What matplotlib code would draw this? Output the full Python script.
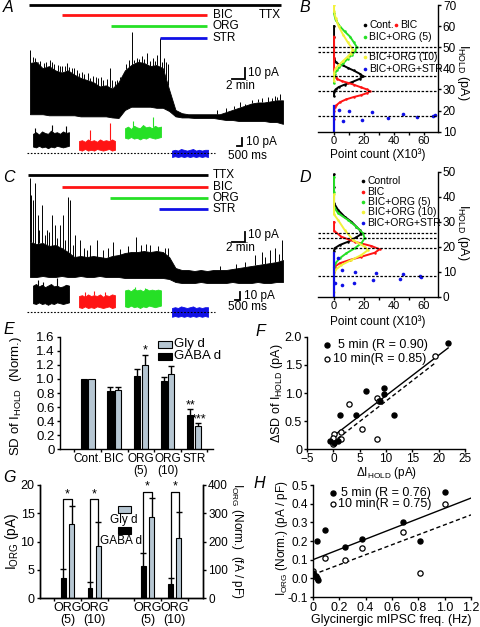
import numpy as np
import matplotlib
matplotlib.use("Agg")
import matplotlib.pyplot as plt
from matplotlib.lines import Line2D
from matplotlib.patches import Rectangle

plt.rcParams['font.family'] = ['Liberation Sans', 'DejaVu Sans']
plt.rcParams['mathtext.fontset'] = 'custom'
plt.rcParams['mathtext.rm'] = 'Liberation Sans'
plt.rcParams['mathtext.it'] = 'Liberation Sans:italic'
plt.rcParams['font.size'] = 8.5
plt.rcParams['axes.linewidth'] = 1.0
for a in ('xtick', 'ytick'):
    plt.rcParams[f'{a}.major.width'] = 1.0
    plt.rcParams[f'{a}.minor.width'] = 1.0
    plt.rcParams[f'{a}.major.size'] = 2.5
    plt.rcParams[f'{a}.minor.size'] = 2.0
    plt.rcParams[f'{a}.major.pad'] = 1.5
    plt.rcParams[f'{a}.direction'] = 'out'

W, H = 480, 627
RED = '#ff1414'
GREEN = '#26e026'
BLUE = '#1010e6'
YELLOW = '#f2f23a'
GRAY = '#b6c6d2'

# ---------------------------------------------------------------------------
# A / C: holding-current traces (min, pA), envelopes
# ---------------------------------------------------------------------------
TRACE_T = list(range(41))
A_hi = [59, 60, 54, 56, 52, 50, 52, 48, 45, 43, 41, 37, 38, 35, 41, 52, 57, 60, 59, 56, 57,
        54, 34, 15, 12, 11, 11, 11, 11, 11, 11, 13, 15, 17, 19, 21, 22, 22, 23, 24, 24]
A_lo = [11, 11, 11, 10, 10, 10, 10, 10, 9, 9, 9, 9, 9, 8, 7.5, 15, 18, 18, 18, 18, 17,
        17, 14, 9, 8, 8, 7.5, 7.5, 7.5, 7.5, 6.5, 5.6, 5.6, 4.7, 4.7, 4.7, 4.7, 4.7, 3.7, 3.7, 2]
A_spk_t = [0.0, 0.47, 1.26, 2.21, 3.16, 3.48, 4.43, 5.06, 5.85, 6.64, 7.43, 8.22, 9.17, 9.49,
           10.43, 11.54, 12.65, 13.75, 15.65, 16.13, 16.92, 17.71, 18.5, 19.45, 20.08, 20.55,
           21.19, 21.5, 33.2, 35.1, 36.7, 37.6, 38.7, 39.5,
           0.8, 1.6, 2.6, 3.8, 4.7, 5.5, 6.2, 7.0, 7.8, 8.6, 9.9, 10.8, 11.2, 12.1, 12.9,
           13.4, 14.3, 15.2, 16.5, 17.3, 18.1, 18.9, 19.8, 20.9, 21.8, 29.5, 31.0, 32.3,
           34.0, 36.0, 38.2, 39.0]
A_spk_v = [71, 64.5, 59.8, 58.9, 61.7, 59.8, 57, 56.1, 58.9, 54.2, 52.3, 50.5, 49.5, 44.9,
           45.8, 43, 54.2, 43, 61.7, 87.9, 63.6, 65.4, 68.2, 63.6, 66.4, 82.2,
           63.6, 59.8, 22, 24.3, 26.2, 27.1, 28, 29.9,
           64, 61, 60, 58, 56, 56, 55, 54, 50, 49, 47, 45, 46, 44, 43,
           42, 46, 58, 62, 63, 63, 61, 61, 60, 58, 15, 17, 19,
           21, 25, 26, 27]

C_hi = [48, 46, 47, 44, 45, 42, 38, 33, 34, 33, 34, 33, 32, 34, 35, 37, 38, 38, 39, 38, 39,
        38, 33, 22, 20, 20, 19, 20, 19, 20, 20, 20, 21, 22, 23, 24, 25, 26, 27, 28, 30]
C_lo = [13, 13, 14, 13, 13, 14, 13, 13, 14, 13, 13, 14, 13, 13, 13, 12, 12, 12, 12, 12, 12,
        12, 11, 8, 7, 7, 7, 8, 7, 7, 7, 7, 8, 7, 7, 7, 8, 7, 7, 8, 8]
C_spk_t = [0.0, 0.16, 0.47, 0.79, 1.26, 1.9, 2.69, 3.48, 3.95, 4.74, 5.22, 6.0, 6.32, 7.1,
           7.9, 9.5, 10.6, 13.1, 16.8, 19.0, 21.3, 35.6, 36.7, 37.9, 38.7, 39.8,
           1.5, 2.3, 3.0, 4.2, 5.6, 6.8, 8.5, 9.0, 11.5, 12.4, 14.2, 15.5, 17.5, 18.4,
           20.2, 21.8, 30.0, 32.5, 34.0, 37.2, 39.3]
C_spk_v = [112, 95, 90, 107, 75, 85, 60, 75, 65, 65, 75, 93, 90, 55,
           50, 45, 50, 48, 53, 45, 42, 35, 38, 40, 42, 50,
           60, 55, 58, 52, 50, 45, 42, 40, 40, 42, 41, 44, 45, 46,
           44, 42, 24, 26, 28, 33, 36]

DRUGS = ['TTX', 'BIC', 'ORG', 'STR']
A_drug_start = [-0.2, 5.0, 12.8, 20.5]
A_drug_end = [39.7, 28.0, 28.0, 28.0]
C_drug_start = [-0.3, 5.0, 12.7, 20.4]
C_drug_end = [28.1, 28.1, 28.1, 28.1]

# snippets (s, pA)
SNIP_T = [0, 0.3, 0.6, 0.9, 1.2, 1.5, 1.8, 2.1, 2.4, 2.7, 3.0, 3.3, 3.6]
SNIP_START = [0.6, 5.2, 9.8, 14.5]
A_snip_hi = [[24, 26, 23, 27, 25, 24, 28, 25, 26, 24, 27, 25, 26],
             [15, 16, 14, 17, 15, 16, 14, 17, 15, 16, 15, 17, 15],
             [31, 33, 30, 34, 32, 31, 35, 32, 33, 31, 34, 32, 33],
             [3, 4, 3, 5, 4, 3, 4, 5, 3, 4, 3, 4, 4]]
A_snip_lo = [[8, 7, 9, 7, 8, 6, 8, 7, 9, 8, 7, 8, 9],
             [4, 3, 5, 3, 4, 3, 5, 4, 3, 4, 5, 3, 4],
             [19, 18, 20, 18, 19, 17, 19, 18, 20, 19, 18, 19, 20],
             [-5, -4, -5, -4, -5, -4, -5, -4, -5, -4, -5, -4, -5]]
A_snip_spk_t = [[0.2, 1.9, 3.3], [1.1, 3.1], [0.8, 2.8], []]
A_snip_spk_v = [[31, 35, 34], [29, 37.5], [40, 45], []]
C_snip_hi = [[33, 35, 32, 34, 31, 33, 35, 32, 33, 31, 32, 34, 33],
             [20, 21, 19, 22, 20, 21, 20, 22, 19, 21, 20, 22, 21],
             [27, 28, 26, 29, 27, 28, 26, 29, 27, 28, 27, 28, 27],
             [5, 6, 5, 7, 6, 5, 6, 7, 5, 6, 5, 6, 6]]
C_snip_lo = [[11, 10, 12, 10, 11, 9, 11, 10, 12, 11, 10, 11, 12],
             [6, 5, 7, 5, 6, 5, 7, 6, 5, 6, 7, 5, 6],
             [7, 6, 8, 6, 7, 5, 7, 6, 8, 7, 6, 7, 8],
             [-6, -5, -6, -5, -6, -5, -6, -5, -6, -5, -6, -5, -6]]
C_snip_spk_t = [[0.5, 1.0, 2.4], [0.6, 1.5, 2.6], [1.0, 2.0], []]
C_snip_spk_v = [[40, 38, 42], [25, 26, 25], [31, 30], []]

# ---------------------------------------------------------------------------
# B / D: all-point histograms (count x10^3, IHOLD pA)
# ---------------------------------------------------------------------------
B_cont_x = [0, 0, 0, 0, 1, 3, 6, 9, 13, 17, 19.5, 17, 12, 7, 3, 1, 0, 0]
B_cont_y = [60, 55, 50, 45, 43, 42, 41.4, 40.3, 39, 37.5, 36.2, 35, 33.5, 32.3, 31.1, 30, 29, 27]
B_bic_x = [0, 0, 0, 1, 2, 5, 9, 13, 18, 22, 24, 22, 18, 13, 8, 4, 1.5, 0.5, 0, 0]
B_bic_y = [55, 45, 38, 36, 35, 34, 33.2, 32.3, 31, 30, 29.2, 28.3, 27.3, 26.4, 25.3, 24, 22.5, 21.6, 20, 16]
B_org5_x = [0, 1, 4, 7, 10.7, 13, 15, 14, 11.8, 9, 6.2, 3.5, 1.8, 0.5, 0, 0]
B_org5_y = [66, 63, 59.8, 57.5, 55, 52.5, 50.3, 48, 46.3, 44.5, 42.4, 40.5, 39, 37.5, 36, 33]
B_org10_x = [0, 0, 1, 3, 6, 9, 11.5, 12.5, 11, 9, 6, 3, 1, 0, 0]
B_org10_y = [70, 67, 64, 60, 56, 52.5, 50, 48.7, 47, 45.5, 43.5, 41.5, 40, 38, 34]
B_str_x = [0, 0, 0, 0, 0, 0, 0, 3.3, 5.8, 10.2, 18.9, 25.1, 36.2, 46.2, 55.1, 66.2, 67.3]
B_str_y = [22, 20, 18, 16, 14, 12, 10, 20.3, 15.2, 19.7, 15.7, 19.2, 16.5, 18.4, 17.1, 17.6, 17.9]
B_dashed = [50.2, 47.8, 36.2, 29.2, 17.6]

D_cont_x = [0, 0, 0, 2.7, 7.1, 11.6, 14.9, 17.1, 18.2, 14.9, 9.3, 3.8, 0.4, 0]
D_cont_y = [49, 44, 37.5, 34.8, 32.1, 30.1, 28.1, 26.8, 25.2, 23.9, 22.1, 20.8, 19.5, 18.5]
D_bic_x = [0, 0, 4.9, 13.8, 24.9, 30.4, 27.1, 18.2, 10.4, 3.8, 0.4, 0]
D_bic_y = [30, 26.5, 24.1, 22.1, 20.4, 19.1, 17.7, 16.1, 14.8, 13.5, 12.1, 10]
D_org5_x = [0, 0, 0, 2.7, 9.3, 14.9, 19.3, 20.4, 18.2, 13.8, 8.2, 3.8, 0.9, 0]
D_org5_y = [48, 42, 36, 33.5, 30.8, 28.1, 25.5, 23.5, 21.5, 19.5, 17.5, 15.5, 13.5, 12]
D_org10_x = [0, 0, 2.7, 7.1, 12.7, 20.4, 22.7, 18.2, 11.6, 4.9, 0.9, 0, 0, 0]
D_org10_y = [41, 33, 30.8, 26.8, 22.8, 20.1, 18.8, 16.8, 14.8, 12.8, 10.8, 9.5, 6, 2]
D_str_x = [0, 0, 0, 0, 0, 0, 0, 0, 0, 2.7, 5.3, 13.8, 28.2, 26, 43.8, 46, 57, 58, 0.7, 5, 13]
D_str_y = [17.6, 16, 14, 12, 10, 8, 6, 4, 0, 15.5, 10.8, 10.1, 9.7, 6.8, 7.1, 9.1, 8.4, 8.1, 5.5, 4.8, 5.7]
D_dashed = [25.4, 23.6, 19.7, 8.3]

# ---------------------------------------------------------------------------
# E: SD of IHOLD (normalised)
# ---------------------------------------------------------------------------
E_groups = ['Cont.', 'BIC', 'ORG\n(5)', 'ORG\n(10)', 'STR']
E_gaba = [1.0, 0.83, 1.04, 0.97, 0.49]
E_gaba_err = [0, 0.05, 0.10, 0.06, 0.08]
E_gly = [1.0, 0.84, 1.20, 1.07, 0.33]
E_gly_err = [0, 0.05, 0.14, 0.12, 0.05]

# F: delta SD vs delta IHOLD
F5_x = [21.8, 6.2, 9.7, 9.7, 8.8, 1.2, 4.3, 11.5, -0.6, 0.2, 0.8]
F5_y = [1.89, 1.04, 1.08, 0.99, 0.85, 0.61, 0.61, 0.61, 0.14, 0.12, 0.14]
F10_x = [19.3, 8.3, 2.9, 8.6, 5.5, 8.3, 0.2, 1.5, 1.5, -0.1, -0.1]
F10_y = [1.66, 0.92, 0.80, 0.86, 0.36, 0.18, 0.27, 0.31, 0.18, 0.20, 0.10]
F5_fit_x, F5_fit_y = [0.2, 21.8], [0.25, 1.80]
F10_fit_x, F10_fit_y = [0.8, 19.3], [0.19, 1.53]

# G: IORG amplitude (pA, left) and density (fA/pF, right)
G_groups = ['ORG\n(5)', 'ORG\n(10)']
G_gaba_pA = [3.6, 1.9]
G_gaba_pA_err = [1.6, 0.9]
G_gly_pA = [13.1, 9.3]
G_gly_pA_err = [3.2, 4.2]
G_gaba_dens = [114, 49]
G_gaba_dens_err = [45, 22]
G_gly_dens = [288, 212]
G_gly_dens_err = [65, 92]

# H: IORG density vs glycinergic mIPSC frequency
H5_x = [0.03, 0.09, 0.24, 0.37, 0.68, 0.81, 1.0, 0.0, 0.04, 0.02]
H5_y = [0.20, 0.26, 0.17, 0.21, 0.30, 0.20, 0.46, 0.03, -0.01, 0.01]
H10_x = [0.09, 0.24, 0.37, 0.68, 0.81, 1.0, 0.0, 0.03, 0.01]
H10_y = [0.11, 0.10, 0.16, 0.25, 0.03, 0.40, 0.04, 0.0, 0.015]
H5_fit_x, H5_fit_y = [0.0, 1.2], [0.10, 0.43]
H10_fit_x, H10_fit_y = [0.0, 1.2], [0.02, 0.34]

# ---------------------------------------------------------------------------
fig = plt.figure(figsize=(W / 100, H / 100), dpi=100)


def add_ax(x0, y0, x1, y1):
    return fig.add_axes([x0 / W, 1 - y1 / H, (x1 - x0) / W, (y1 - y0) / H])


def ftext(x, y, s, **kw):
    kw.setdefault('va', 'center')
    fig.text(x / W, 1 - y / H, s, **kw)


def fmark(x, y, **kw):
    fig.add_artist(Line2D([x / W], [1 - y / H], transform=fig.transFigure,
                          linestyle='none', **kw))


def frect(x0, y0, x1, y1, color):
    fig.add_artist(Rectangle((x0 / W, 1 - y1 / H), (x1 - x0) / W, (y1 - y0) / H,
                             transform=fig.transFigure, facecolor=color,
                             edgecolor='k', lw=0.8))


def up_err(ax, x, y, err, cap=4.5):
    # one-sided (upward) error bars with a cap on top only
    x = np.asarray(x, float)
    top = np.asarray(y, float) + np.asarray(err, float)
    ax.vlines(x, y, top, color='k', lw=1.0)
    ax.plot(x, top, ls='none', marker='_', ms=cap, mew=1.0, color='k')


def draw_trace(ax, hi, lo, spk_t, spk_v):
    ax.fill_between(TRACE_T, lo, hi, color='k', lw=0.6)
    base = np.interp(spk_t, TRACE_T, hi)
    ax.vlines(spk_t, base, spk_v, color='k', lw=0.7)


def drug_bars(ax, starts, ends, ys, label_ys, ttx_right):
    colors = ['k', RED, GREEN, BLUE]
    for name, t0, t1, y, ly, c in zip(DRUGS, starts, ends, ys, label_ys, colors):
        ax.plot([t0, t1], [y, y], color=c, lw=2.0, solid_capstyle='butt', clip_on=False)
        if name == 'TTX' and ttx_right:
            ax.text(39.7, ly, name, ha='right', va='center', fontsize=8.5)
        else:
            ax.text(28.9, ly, name, ha='left', va='center', fontsize=8.5)


def scale_bar(ax, x, y, dx, dy, top, bottom, tx, ty, bx, by):
    ax.plot([x - dx, x, x], [y, y, y + dy], color='k', lw=1.3, clip_on=False,
            solid_joinstyle='miter')
    ax.text(tx, ty, top, ha='left', va='center', fontsize=8.5)
    ax.text(bx, by, bottom, ha='left', va='center', fontsize=8.5)


def draw_snips(ax, his, los, spk_ts, spk_vs):
    colors = ['k', RED, GREEN, BLUE]
    for s0, hi, lo, st, sv, c in zip(SNIP_START, his, los, spk_ts, spk_vs, colors):
        t = [s0 + v for v in SNIP_T]
        ax.fill_between(t, lo, hi, color=c, lw=0.6)
        if st:
            base = np.interp([s0 + v for v in st], t, hi)
            ax.vlines([s0 + v for v in st], base, sv, color=c, lw=0.8)
    ax.plot([0, 18.8], [0, 0], color='k', lw=0.8, ls=(0, (1.5, 1.5)))


# ---- A ----
axA = add_ax(30, 0, 283, 126)
axA.set_xlim(0, 40)
axA.set_ylim(0, 117.8)
axA.axis('off')
draw_trace(axA, A_hi, A_lo, A_spk_t, A_spk_v)
drug_bars(axA, A_drug_start, A_drug_end, [113.1, 103.7, 93.5, 82.2],
          [103.7, 103.7, 93.5, 82.2], True)
scale_bar(axA, 34.0, 43.9, 2, 10, '10 pA', '2 min', 34.4, 49.5, 31.0, 37.0)

axAs = add_ax(27, 115, 290, 165)
axAs.set_xlim(0, 26.3)
axAs.set_ylim(-15, 47.5)
axAs.axis('off')
draw_snips(axAs, A_snip_hi, A_snip_lo, A_snip_spk_t, A_snip_spk_v)
scale_bar(axAs, 21.5, 9, 0.5, 10, '10 pA', '500 ms', 21.9, 14, 20.1, -4)

# ---- C ----
axC = add_ax(30, 165, 283, 291)
axC.set_xlim(0, 40)
axC.set_ylim(-1, 125)
axC.axis('off')
draw_trace(axC, C_hi, C_lo, C_spk_t, C_spk_v)
drug_bars(axC, C_drug_start, C_drug_end, [115, 103, 92, 81], [115, 103, 92, 81], False)
scale_bar(axC, 34.0, 48.3, 2, 10, '10 pA', '2 min', 34.4, 55, 31.0, 42)

axCs = add_ax(27, 270, 290, 320)
axCs.set_xlim(0, 26.3)
axCs.set_ylim(-10, 52.5)
axCs.axis('off')
draw_snips(axCs, C_snip_hi, C_snip_lo, C_snip_spk_t, C_snip_spk_v)
scale_bar(axCs, 21.3, 15, 0.5, 10, '10 pA', '500 ms', 21.7, 20, 20.1, 6)


# ---- B / D ----
def hist_panel(ax, series, str_x, str_y, dashed, ylim, yticks):
    for x, y, c in series:
        ax.plot(x, y, color=c, lw=1.4, marker='o', ms=1.8, mew=0)
    sx = np.array(str_x)
    sy = np.array(str_y)
    on0 = sx == 0
    ax.plot(sx[on0], sy[on0], color=BLUE, lw=1.6)
    ax.plot(sx[~on0], sy[~on0], color=BLUE, ls='none', marker='o', ms=2.6, mew=0)
    for v in dashed:
        ax.axhline(v, color='k', lw=0.9, ls=(0, (2, 1.3)))
    ax.set_xlim(-10.7, 69.3)
    ax.set_ylim(*ylim)
    ax.spines['left'].set_visible(False)
    ax.spines['top'].set_visible(False)
    ax.yaxis.tick_right()
    ax.set_yticks(yticks)
    ax.set_xticks([0, 20, 40, 60])
    ax.set_xticks([10, 30, 50], minor=True)
    ax.tick_params(labelsize=8.5, pad=1)
    ax.tick_params(axis='x', labelsize=8, pad=0.5)


axB = add_ax(318, 5, 438, 131.7)
hist_panel(axB, [(B_cont_x, B_cont_y, 'k'), (B_bic_x, B_bic_y, RED),
                 (B_org5_x, B_org5_y, GREEN), (B_org10_x, B_org10_y, YELLOW)],
           B_str_x, B_str_y, B_dashed, (10, 70), [10, 20, 30, 40, 50, 60, 70])
axD = add_ax(318, 172, 438, 297)
hist_panel(axD, [(D_cont_x, D_cont_y, 'k'), (D_bic_x, D_bic_y, RED),
                 (D_org5_x, D_org5_y, GREEN), (D_org10_x, D_org10_y, YELLOW)],
           D_str_x, D_str_y, D_dashed, (0, 50), [0, 10, 20, 30, 40, 50])

for yc, ycl in ((72, 155), (232, 322)):
    ftext(463, yc, r'I$_{\mathrm{HOLD}}$ (pA)', rotation=270, ha='center', fontsize=9)
    ftext(378, ycl, 'Point count (X10³)', ha='center', fontsize=8.5)

# B legend
for (x, y, c, s) in [(365, 25, 'k', 'Cont.'), (396, 25, RED, 'BIC'),
                     (365, 37, GREEN, 'BIC+ORG (5)'), (365, 57, YELLOW, 'BIC+ORG (10)'),
                     (365, 69, BLUE, 'BIC+ORG+STR')]:
    fmark(x, y, marker='o', ms=2.6, color=c, mew=0)
    ftext(x + 4, y, s, ha='left', fontsize=7.5)
# D legend
for (y, c, s) in [(181, 'k', 'Control'), (191.7, RED, 'BIC'), (201.7, GREEN, 'BIC+ORG (5)'),
                  (212.3, YELLOW, 'BIC+ORG (10)'), (222.7, BLUE, 'BIC+ORG+STR')]:
    fmark(363, y, marker='o', ms=2.6, color=c, mew=0)
    ftext(367.5, y, s, ha='left', fontsize=7.5)

# ---- E ----
axE = add_ax(60, 336.7, 213, 449.3)
xe = np.arange(len(E_groups))
off, bw = 0.143, 0.235
axE.bar(xe - off, E_gaba, bw, color='k', edgecolor='k', lw=0.8)
axE.bar(xe + off, E_gly, bw, color=GRAY, edgecolor='k', lw=0.8)
up_err(axE, (xe - off)[1:], E_gaba[1:], E_gaba_err[1:])
up_err(axE, (xe + off)[1:], E_gly[1:], E_gly_err[1:])
axE.text(2 + off, E_gly[2] + E_gly_err[2] - 0.02, '*', ha='center', va='bottom', fontsize=9)
axE.text(4 - off, E_gaba[4] + E_gaba_err[4] - 0.03, '**', ha='center', va='bottom', fontsize=9)
axE.text(4 + off + 0.05, E_gly[4] + E_gly_err[4] - 0.04, '***', ha='center', va='bottom', fontsize=9)
axE.set_xlim(-1.04, 4.71)
axE.set_ylim(0, 1.6)
axE.set_yticks([0, 0.2, 0.4, 0.6, 0.8, 1.0, 1.2, 1.4, 1.6])
axE.set_yticklabels(['0', '0.2', '0.4', '0.6', '0.8', '1.0', '1.2', '1.4', '1.6'])
axE.set_xticks(xe)
axE.set_xticklabels(E_groups, linespacing=0.95)
axE.set_xticks(np.arange(-0.5, 5, 1.0), minor=True)
axE.tick_params(axis='x', which='major', length=0, pad=3)
axE.tick_params(axis='y', labelsize=9.5)
axE.tick_params(axis='x', labelsize=8.5)
for s in ('top', 'right'):
    axE.spines[s].set_visible(False)
ftext(16, 396, r'SD of I$_{\mathrm{HOLD}}$  (Norm.)', rotation=90, ha='center', fontsize=9.5)
frect(158, 341, 172, 348, GRAY)
ftext(174, 344.5, 'Gly d', ha='left', fontsize=9.5)
frect(158, 353, 172, 360, 'k')
ftext(174, 356.5, 'GABA d', ha='left', fontsize=9.5)

# ---- F ----
axF = add_ax(307, 336.7, 465, 449.3)
axF.plot(F5_fit_x, F5_fit_y, color='k', lw=1.0)
axF.plot(F10_fit_x, F10_fit_y, color='k', lw=1.0, ls=(0, (3, 2)))
axF.plot(F10_x, F10_y, ls='none', marker='o', ms=3.8, mfc='white', mec='k', mew=0.9)
axF.plot(F5_x, F5_y, ls='none', marker='o', ms=3.6, color='k')
axF.set_xlim(-5, 25)
axF.set_ylim(0, 2.0)
axF.set_xticks([-5, 0, 5, 10, 15, 20, 25])
axF.set_yticks([0, 0.5, 1.0, 1.5, 2.0])
axF.set_yticklabels(['0', '0.5', '1.0', '1.5', '2.0'])
axF.tick_params(labelsize=9, pad=1)
axF.tick_params(axis='x', labelsize=8.5, pad=0.5)
for s in ('top', 'right'):
    axF.spines[s].set_visible(False)
ftext(277, 393, r'$\Delta$SD of I$_{\mathrm{HOLD}}$ (pA)', rotation=90, ha='center', fontsize=9)
ftext(387, 473, r'$\Delta$I$_{\mathrm{HOLD}}$ (pA)', ha='center', fontsize=8.5)
fmark(327, 345, marker='o', ms=3.6, color='k')
ftext(338, 345, '5 min (R = 0.90)', ha='left', fontsize=9)
fmark(327, 359, marker='o', ms=3.6, mfc='white', mec='k', mew=0.9)
ftext(333, 359, '10 min(R = 0.85)', ha='left', fontsize=9)

# ---- G ----
axG = add_ax(40, 485, 203.3, 598.3)
axG2 = axG.twinx()
gl = np.array([0.0, 1.0])
gr = np.array([3.0, 4.02])
off, bw = 0.155, 0.18
axG.bar(gl - off, G_gaba_pA, bw, color='k', edgecolor='k', lw=0.8)
axG.bar(gl + off, G_gly_pA, bw, color=GRAY, edgecolor='k', lw=0.8)
up_err(axG, gl - off, G_gaba_pA, G_gaba_pA_err)
up_err(axG, gl + off, G_gly_pA, G_gly_pA_err)
axG2.bar(gr - off, G_gaba_dens, bw, color='k', edgecolor='k', lw=0.8)
axG2.bar(gr + off, G_gly_dens, bw, color=GRAY, edgecolor='k', lw=0.8)
up_err(axG2, gr - off, G_gaba_dens, G_gaba_dens_err)
up_err(axG2, gr + off, G_gly_dens, G_gly_dens_err)
for i in range(2):
    lo_b = G_gaba_pA[i] + G_gaba_pA_err[i]
    lo_g = G_gly_pA[i] + G_gly_pA_err[i]
    axG.plot([gl[i] - off, gl[i] - off, gl[i] + off, gl[i] + off], [lo_b, 17.5, 17.5, lo_g],
             color='k', lw=0.9)
    axG.text(gl[i], 17.3, '*', ha='center', va='bottom', fontsize=9)
    lo_b = G_gaba_dens[i] + G_gaba_dens_err[i]
    lo_g = G_gly_dens[i] + G_gly_dens_err[i]
    axG2.plot([gr[i] - off, gr[i] - off, gr[i] + off, gr[i] + off], [lo_b, 376, 376, lo_g],
              color='k', lw=0.9)
    axG2.text(gr[i], 372, '*', ha='center', va='bottom', fontsize=9)
axG.set_xlim(-1.03, 5.09)
axG.set_ylim(0, 20)
axG2.set_ylim(0, 400)
axG.set_yticks([0, 5, 10, 15, 20])
axG2.set_yticks([0, 100, 200, 300, 400])
axG.set_xticks(list(gl) + list(gr))
axG.set_xticklabels(G_groups + G_groups, linespacing=0.95)
axG.set_xticks([-0.5, 0.5, 1.5, 2.5, 3.5, 4.5], minor=True)
axG.tick_params(axis='x', which='major', length=0, pad=3)
axG.tick_params(labelsize=9)
axG2.tick_params(labelsize=8.5, pad=1)
for a in (axG, axG2):
    a.spines['top'].set_visible(False)
ftext(12, 541, r'I$_{\mathrm{ORG}}$ (pA)', rotation=90, ha='center', fontsize=10)
ftext(237, 541, r'I$_{\mathrm{ORG}}$ (Norm.)  (fA / pF)', rotation=270, ha='center', fontsize=8.5)
frect(118, 506, 131, 513, GRAY)
ftext(124, 520, 'Gly d', ha='center', fontsize=8.5)
frect(118, 527, 131, 534, 'k')
ftext(121, 541, 'GABA d', ha='center', fontsize=8.5)

# ---- H ----
axH = add_ax(313, 485, 471, 597)
axH.plot(H5_fit_x, H5_fit_y, color='k', lw=1.0)
axH.plot(H10_fit_x, H10_fit_y, color='k', lw=1.0, ls=(0, (3, 2)))
axH.plot(H10_x, H10_y, ls='none', marker='o', ms=3.8, mfc='white', mec='k', mew=0.9)
axH.plot(H5_x, H5_y, ls='none', marker='o', ms=3.6, color='k')
axH.set_xlim(0, 1.2)
axH.set_ylim(-0.1, 0.5)
axH.set_xticks([0, 0.2, 0.4, 0.6, 0.8, 1.0, 1.2])
axH.set_xticklabels(['0', '0.2', '0.4', '0.6', '0.8', '1.0', '1.2'])
axH.set_yticks([-0.1, 0, 0.1, 0.2, 0.3, 0.4, 0.5])
axH.set_yticklabels(['-0.1', '0.0', '0.1', '0.2', '0.3', '0.4', '0.5'])
axH.tick_params(labelsize=9, pad=1)
axH.tick_params(axis='y', labelsize=8.5)
for s in ('top', 'right'):
    axH.spines[s].set_visible(False)
ftext(282, 538, r'I$_{\mathrm{ORG}}$ (Norm.) (pA / pF)', rotation=90, ha='center', fontsize=8.5)
ftext(391, 620, 'Glycinergic mIPSC freq. (Hz)', ha='center', fontsize=9)
fmark(333, 493, marker='o', ms=3.6, color='k')
ftext(341, 493, '5 min (R = 0.76)', ha='left', fontsize=9)
fmark(333, 504, marker='o', ms=3.6, mfc='white', mec='k', mew=0.9)
ftext(338, 504, '10 min(R = 0.75)', ha='left', fontsize=9)

# panel letters
for (x, y, s) in [(3, 7, 'A'), (300, 7, 'B'), (3, 177, 'C'), (300, 177, 'D'),
                  (3, 330, 'E'), (256, 331, 'F'), (3, 477, 'G'), (254, 484, 'H')]:
    ftext(x, y, s, ha='left', fontsize=11.5, style='italic')

fig.savefig('out.png', dpi=100)
